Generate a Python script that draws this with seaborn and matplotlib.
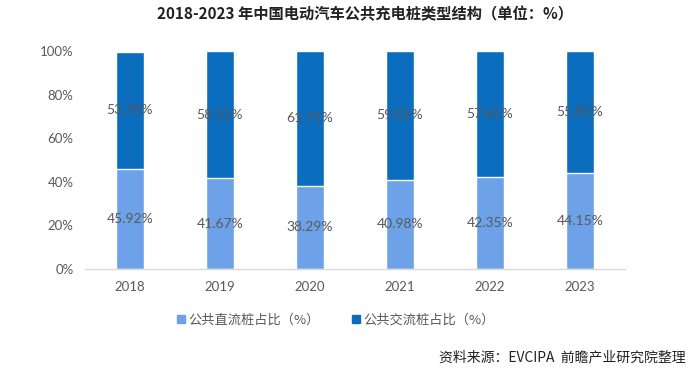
import matplotlib
matplotlib.use("Agg")
import matplotlib.pyplot as plt
import pandas as pd
import seaborn as sns
from matplotlib.patches import Patch

YEARS = ["2018", "2019", "2020", "2021", "2022", "2023"]
DC_SHARE = [45.92, 41.67, 38.29, 40.98, 42.35, 44.15]
AC_SHARE = [53.78, 58.33, 61.71, 59.02, 57.65, 55.85]
Y_TICKS = [0, 20, 40, 60, 80, 100]

DC_LABEL = "公共直流桩占比（%）"
AC_LABEL = "公共交流桩占比（%）"
TITLE = "2018-2023 年中国电动汽车公共充电桩类型结构（单位：%）"
SOURCE = "资料来源：EVCIPA  前瞻产业研究院整理"

DC_COLOR = "#6DA2E8"
AC_COLOR = "#0A6DBE"
TEXT_GREY = "#595959"

sns.set_theme(style="white")
plt.rcParams["font.family"] = ["Noto Sans CJK SC", "DejaVu Sans"]

df = pd.DataFrame({"year": YEARS, "dc": DC_SHARE, "ac": AC_SHARE})
df["total"] = df["dc"] + df["ac"]

fig = plt.figure(figsize=(7, 3.73), dpi=100)
ax = fig.add_axes([0.121, 0.279, 0.772, 0.584])

# stacked look: full-height dark bar, light DC bar drawn over it
sns.barplot(data=df, x="year", y="total", color=AC_COLOR, width=0.31,
            saturation=1, ax=ax, order=YEARS)
sns.barplot(data=df, x="year", y="dc", color=DC_COLOR, width=0.31,
            saturation=1, ax=ax, order=YEARS)

for i, row in df.iterrows():
    ax.text(i, row["dc"] / 2, f"{row['dc']:.2f}%", ha="center", va="center",
            fontsize=10, color=TEXT_GREY, family=["Lato", "DejaVu Sans"])
    ax.text(i, row["dc"] + row["ac"] / 2, f"{row['ac']:.2f}%", ha="center", va="center",
            fontsize=10, color=TEXT_GREY, family=["Lato", "DejaVu Sans"])

ax.set_xlim(-0.5, 5.5)
ax.set_ylim(0, 100)
ax.set_yticks(Y_TICKS)
ax.set_yticklabels([f"{t}%" for t in Y_TICKS], family=["Lato", "DejaVu Sans"])
ax.set_xticklabels(YEARS, family=["Lato", "DejaVu Sans"])
ax.tick_params(axis="both", length=0, labelsize=9.5, colors=TEXT_GREY)
ax.tick_params(axis="x", pad=9)
ax.tick_params(axis="y", pad=8)
ax.set_xlabel("")
ax.set_ylabel("")
for side in ["top", "right", "left"]:
    ax.spines[side].set_visible(False)
ax.spines["bottom"].set_color("#D9D9D9")
ax.spines["bottom"].set_linewidth(1)

handles = [Patch(color=DC_COLOR), Patch(color=AC_COLOR)]
fig.legend(handles, [DC_LABEL, AC_LABEL], loc="center", bbox_to_anchor=(0.48, 0.142),
           ncol=2, frameon=False, fontsize=9.5, handlelength=0.6, handleheight=0.6,
           handletextpad=0.3, columnspacing=2.4, labelcolor=TEXT_GREY)

fig.text(0.522, 0.962, TITLE, ha="center", va="center", fontsize=11,
         fontweight="bold", color="#222222")
fig.text(0.98, 0.043, SOURCE, ha="right", va="center", fontsize=10, color="#222222")

fig.savefig("out.png", dpi=100)
